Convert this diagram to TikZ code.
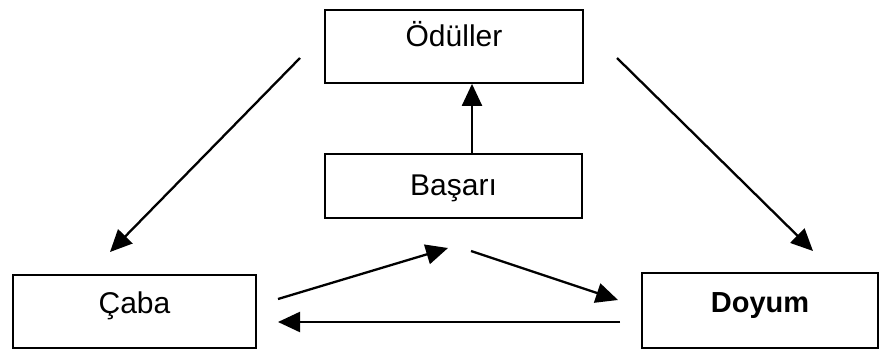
\documentclass[tikz,border=0pt]{standalone}
\usepackage{fontspec}
\setmainfont{Liberation Sans}
\usetikzlibrary{arrows.meta}
\begin{document}
\begin{tikzpicture}[x=1pt,y=1pt,
  box/.style={draw=black, line width=1.8pt, rectangle, inner sep=0pt,
    font=\fontsize{30}{33}\selectfont},
  conn/.style={line width=2.3pt, -{Triangle[length=22pt,width=20pt]}}]
\useasboundingbox[fill=white] (0,0) rectangle (880,349);
\node[box, minimum width=258pt, minimum height=73pt, text height=12pt, text depth=11pt] (odul) at (454,302.5) {Ödüller};
\node[box, minimum width=257pt, minimum height=64pt, text height=20pt, text depth=2pt] (basari) at (453.5,163) {Başarı};
\node[box, minimum width=243pt, minimum height=73pt, text height=12pt, text depth=9pt] (caba) at (134.5,37.5) {Çaba};
\node[box, minimum width=236pt, minimum height=75pt, text height=12pt, text depth=9pt,
  font=\fontsize{29}{32}\selectfont\bfseries] (doyum) at (760,38.5) {Doyum};
% free ends of connectors
\coordinate (a1s) at (300,291);
\coordinate (a1e) at (110,97);
\coordinate (a2s) at (617,291);
\coordinate (a2e) at (813,98);
\coordinate (a3x) at (472,0);
\coordinate (a4s) at (278,50);
\coordinate (a4e) at (448,101);
\coordinate (a5s) at (471,98);
\coordinate (a5e) at (618,49);
\coordinate (a6s) at (620,27);
\coordinate (a6e) at (278,27);
\draw[conn] (a1s) -- (a1e);
\draw[conn] (a2s) -- (a2e);
\draw[conn] (basari.north -| a3x) -- (odul.south -| a3x);
\draw[conn] (a4s) -- (a4e);
\draw[conn] (a5s) -- (a5e);
\draw[conn] (a6s) -- (a6e);
\end{tikzpicture}
\end{document}
